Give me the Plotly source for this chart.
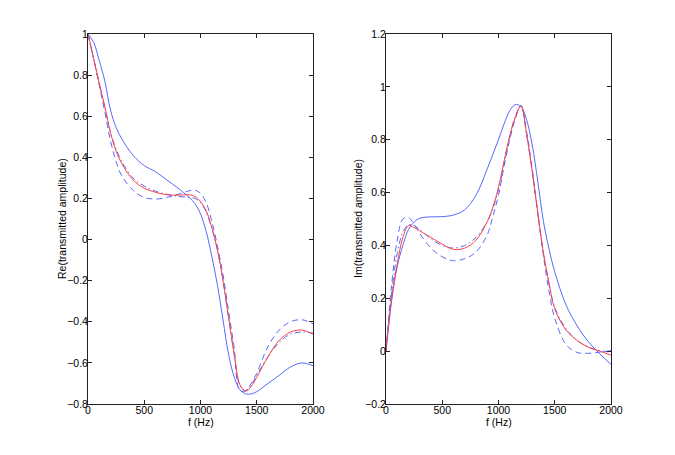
import plotly.graph_objects as go

# frequency grid (Hz)
freq = [0, 50, 100, 150, 200, 250, 300, 400, 500, 600, 700, 800, 900, 950, 1000,
        1050, 1100, 1150, 1200, 1250, 1300, 1350, 1400, 1450, 1500, 1600, 1700,
        1800, 1900, 2000]

# Left panel: Re(transmitted amplitude)
re_red = [1.0, 0.88, 0.76, 0.645, 0.52, 0.43, 0.37, 0.29, 0.25, 0.23, 0.218, 0.216,
          0.218, 0.21, 0.185, 0.14, 0.06, -0.05, -0.2, -0.38, -0.56, -0.705, -0.738,
          -0.715, -0.67, -0.57, -0.49, -0.45, -0.44, -0.46]
re_blue = [1.0, 0.96, 0.87, 0.77, 0.63, 0.545, 0.49, 0.41, 0.36, 0.33, 0.29, 0.25,
           0.205, 0.175, 0.125, 0.04, -0.08, -0.22, -0.39, -0.56, -0.67, -0.73,
           -0.75, -0.751, -0.74, -0.70, -0.66, -0.62, -0.60, -0.613]
re_dash = [1.0, 0.88, 0.75, 0.62, 0.48, 0.38, 0.31, 0.24, 0.205, 0.197, 0.205, 0.22,
           0.237, 0.24, 0.225, 0.18, 0.09, -0.03, -0.17, -0.35, -0.53, -0.735,
           -0.735, -0.70, -0.65, -0.52, -0.44, -0.40, -0.39, -0.41]
re_dashdot = [1.0, 0.88, 0.76, 0.645, 0.52, 0.44, 0.38, 0.30, 0.26, 0.235, 0.22,
              0.21, 0.205, 0.2, 0.18, 0.135, 0.055, -0.05, -0.2, -0.38, -0.56,
              -0.71, -0.735, -0.71, -0.66, -0.57, -0.50, -0.46, -0.45, -0.455]

# Right panel: Im(transmitted amplitude)
im_red = [0.0, 0.2, 0.33, 0.43, 0.475, 0.468, 0.455, 0.43, 0.405, 0.385, 0.39, 0.42,
          0.49, 0.545, 0.62, 0.72, 0.815, 0.885, 0.928, 0.82, 0.68, 0.52, 0.37, 0.255,
          0.16, 0.08, 0.04, 0.015, 0.0, -0.015]
im_blue = [0.0, 0.19, 0.32, 0.40, 0.46, 0.488, 0.503, 0.508, 0.509, 0.515, 0.535,
           0.59, 0.69, 0.745, 0.80, 0.86, 0.91, 0.933, 0.925, 0.875, 0.78, 0.64,
           0.49, 0.385, 0.30, 0.175, 0.095, 0.035, -0.01, -0.05]
im_dash = [0.0, 0.25, 0.42, 0.50, 0.505, 0.48, 0.445, 0.39, 0.357, 0.342, 0.35,
           0.375, 0.44, 0.51, 0.59, 0.70, 0.80, 0.88, 0.93, 0.83, 0.69, 0.52, 0.36,
           0.225, 0.125, 0.025, -0.005, -0.008, -0.004, 0.002]
im_dashdot = [0.0, 0.22, 0.37, 0.45, 0.478, 0.475, 0.46, 0.425, 0.40, 0.39, 0.40,
              0.43, 0.49, 0.54, 0.61, 0.71, 0.81, 0.89, 0.928, 0.82, 0.68, 0.52,
              0.37, 0.255, 0.165, 0.085, 0.04, 0.015, 0.002, -0.003]

x_ticks = [0, 500, 1000, 1500, 2000]

BLUE = "rgb(85,105,255)"
RED = "rgb(255,65,65)"

fig = go.Figure()

def add(xa, ya, y, color, dash):
    fig.add_trace(go.Scatter(x=freq, y=y, mode="lines", xaxis=xa, yaxis=ya,
                             line=dict(color=color, width=1, dash=dash,
                                       shape="spline", smoothing=1.0),
                             showlegend=False, hoverinfo="skip"))

add("x", "y", re_blue, BLUE, "solid")
add("x", "y", re_dash, BLUE, "6px,4px")
add("x", "y", re_dashdot, BLUE, "6px,3px,1.5px,3px")
add("x", "y", re_red, RED, "solid")

add("x2", "y2", im_blue, BLUE, "solid")
add("x2", "y2", im_dash, BLUE, "6px,4px")
add("x2", "y2", im_dashdot, BLUE, "6px,3px,1.5px,3px")
add("x2", "y2", im_red, RED, "solid")

W, H = 675, 455
OFF = 8  # page offset of the plot div
font = dict(family="Liberation Sans, Arial, sans-serif", size=10.5, color="black")

axis_common = dict(showline=True, linecolor="#222", linewidth=1, mirror="ticks",
                   ticks="inside", ticklen=4, tickcolor="#222", showgrid=False,
                   zeroline=False, tickfont=font, automargin=False)

def px_x(p):
    return (p - OFF) / W

def px_y(p):
    return (H - (p - OFF)) / H

ydom = [px_y(404), px_y(34)]

fig.update_layout(
    width=W, height=H, margin=dict(l=0, r=0, t=0, b=0, autoexpand=False),
    paper_bgcolor="white", plot_bgcolor="white", font=font,
    xaxis=dict(domain=[px_x(88), px_x(313)], range=[0, 2000], tickvals=x_ticks,
               anchor="y", ticklabelstandoff=-4, **axis_common),
    yaxis=dict(domain=ydom, range=[-0.8, 1], dtick=0.2, tick0=0,
               anchor="x", ticklabelstandoff=-3, **axis_common),
    xaxis2=dict(domain=[px_x(386), px_x(611)], range=[0, 2000], tickvals=x_ticks,
                anchor="y2", ticklabelstandoff=-4, **axis_common),
    yaxis2=dict(domain=ydom, range=[-0.2, 1.2], dtick=0.2, tick0=0,
                anchor="x2", ticklabelstandoff=-3, **axis_common),
)

titles = [
    ("f (Hz)", px_x(200.5), px_y(422), 0),
    ("f (Hz)", px_x(498.5), px_y(422), 0),
    ("Re(transmitted amplitude)", px_x(62), px_y(219), -90),
    ("Im(transmitted amplitude)", px_x(358), px_y(219), -90),
]
for text, x, y, ang in titles:
    fig.add_annotation(text=text, x=x, y=y, xref="paper", yref="paper",
                       showarrow=False, textangle=ang, font=font,
                       xanchor="center", yanchor="middle")

fig.write_html("out.html")
